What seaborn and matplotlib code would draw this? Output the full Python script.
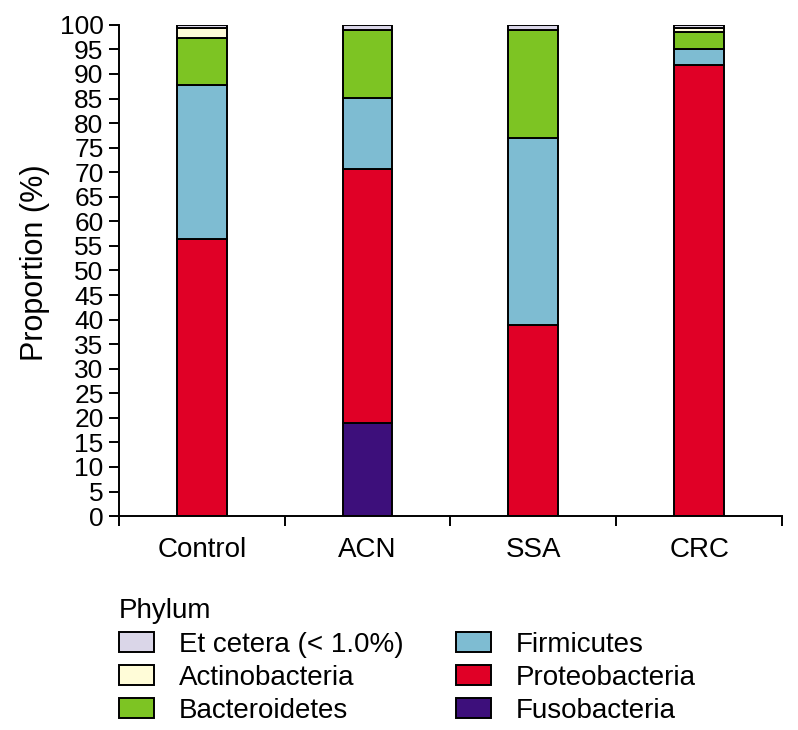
import matplotlib
matplotlib.use("Agg")
import matplotlib.pyplot as plt
import seaborn as sns
import pandas as pd

groups = ["Control", "ACN", "SSA", "CRC"]
phyla = ["Et cetera (< 1.0%)", "Actinobacteria", "Bacteroidetes",
         "Firmicutes", "Proteobacteria", "Fusobacteria"]
colors = ["#DAD6E8", "#FFFCD8", "#7DC423", "#7EBCD2", "#E00026", "#3D0F7B"]

etcetera = [0.6, 1.0, 1.0, 0.6]
actinobacteria = [2.0, 0.0, 0.0, 0.9]
bacteroidetes = [9.6, 13.9, 22.0, 3.4]
firmicutes = [31.4, 14.4, 38.1, 3.2]
proteobacteria = [56.4, 51.8, 38.9, 91.9]
fusobacteria = [0.0, 18.9, 0.0, 0.0]

series = [etcetera, actinobacteria, bacteroidetes, firmicutes,
          proteobacteria, fusobacteria]
rows = []
for name, vals in zip(phyla, series):
    for g, v in zip(groups, vals):
        rows.append({"group": g, "phylum": name, "value": v})
df = pd.DataFrame(rows)
df["group"] = pd.Categorical(df["group"], categories=groups, ordered=True)
df["gx"] = df["group"].cat.codes

sns.set_style("white")
plt.rcParams["font.family"] = ["Liberation Sans", "DejaVu Sans"]
plt.rcParams["text.color"] = "black"
plt.rcParams["axes.labelcolor"] = "black"
plt.rcParams["xtick.color"] = "black"
plt.rcParams["ytick.color"] = "black"

fig = plt.figure(figsize=(7.98, 7.30), dpi=100)
ax = fig.add_axes([0.149, 0.293, 0.831, 0.673])

sns.histplot(data=df, x="gx", weights="value", hue="phylum",
             hue_order=phyla, palette=colors, multiple="stack",
             discrete=True, shrink=0.3, alpha=1, edgecolor="black",
             linewidth=1.4, ax=ax)

ax.set_xlim(-0.5, 3.5)
ax.set_ylim(0, 100)
ax.set_yticks(range(0, 101, 5))
ax.tick_params(axis="y", labelsize=19, length=7, width=1.4,
               direction="out", left=True, pad=4)
ax.set_xticks([-0.5, 0.5, 1.5, 2.5, 3.5])
ax.set_xticklabels([])
ax.set_xticks(range(len(groups)), minor=True)
ax.set_xticklabels(groups, minor=True, fontsize=20)
ax.tick_params(axis="x", which="major", length=7, width=1.4,
               direction="out", bottom=True)
ax.tick_params(axis="x", which="minor", length=0, pad=15)
ax.set_xlabel("")
ax.set_ylabel("Proportion (%)", fontsize=22)
ax.yaxis.set_label_coords(-0.104, 0.516)

for s in ["top", "right"]:
    ax.spines[s].set_visible(False)
for s in ["left", "bottom"]:
    ax.spines[s].set_linewidth(1.4)
    ax.spines[s].set_color("black")

sns.move_legend(ax, loc="upper left", bbox_to_anchor=(-0.021, -0.139),
                ncol=2, title="Phylum", frameon=False, fontsize=20,
                title_fontsize=20, alignment="left", handlelength=1.25,
                handleheight=0.75, handletextpad=0.9, columnspacing=1.9,
                labelspacing=0.26, borderpad=0.0)

fig.savefig("out.png", dpi=100)
